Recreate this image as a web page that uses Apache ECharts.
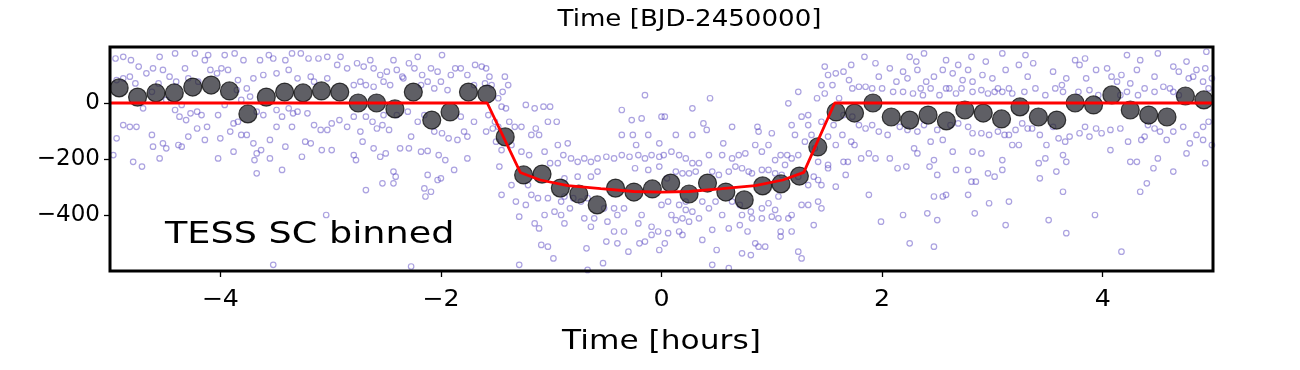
<!DOCTYPE html>
<html><head><meta charset="utf-8">
<script src="https://cdn.jsdelivr.net/npm/echarts@6/dist/echarts.min.js"></script>
<style>html,body{margin:0;padding:0;background:#fff}#c{width:1300px;height:370px}</style>
</head><body><div id="c"></div>
<script>
// Binned TESS short-cadence points (time in hours, flux in ppm)
const binTime = [-4.917,-4.750,-4.583,-4.417,-4.250,-4.083,-3.917,-3.750,-3.583,-3.417,
-3.250,-3.083,-2.917,-2.750,-2.583,-2.417,-2.250,-2.083,-1.917,-1.750,
-1.583,-1.417,-1.250,-1.083,-0.917,-0.750,-0.583,-0.417,-0.250,-0.083,
0.083,0.250,0.417,0.583,0.750,0.917,1.083,1.250,1.417,1.583,
1.750,1.917,2.083,2.250,2.417,2.583,2.750,2.917,3.083,3.250,
3.417,3.583,3.750,3.917,4.083,4.250,4.417,4.583,4.750,4.917];
const binFlux = [54,21,36,36,57,64,43,-39,21,39,
36,43,39,0,0,-21,39,-61,-32,39,
32,-121,-257,-254,-304,-325,-364,-304,-318,-307,
-286,-325,-286,-318,-346,-296,-289,-261,-157,-32,
-36,0,-50,-61,-43,-64,-25,-36,-57,-14,
-50,-61,0,-7,29,-25,-43,-50,25,11];
// Transit model
const modelTime = [-5,-1.58,-1.28,-1.1,-0.85,-0.55,-0.25,0,0.25,0.55,0.85,1.1,1.29,1.57,5];
const modelFlux = [0,0,-248,-275,-295,-306,-316,-318,-316,-306,-295,-275,-248,0,0];
// Unbinned points [time, flux]
const rawPoints = [
[-4.95,159],[-4.88,165],[-4.81,153],[-4.74,130],[-4.67,106],[-4.61,124],[-4.55,165],[-4.52,118],[-4.46,94],[-4.41,177],[-4.40,76],[-4.32,124],[-4.29,88],[-4.23,177],[-4.20,76],[-4.14,153],[-4.11,171],[-4.09,118],[-4.03,106],[-3.99,124],[-3.96,171],[-3.93,118],[-3.87,177],[-3.84,82],[-3.79,153],[-3.76,52],[-3.70,88],[-3.64,153],[-3.61,100],[-3.56,171],[-3.52,159],[-3.49,106],[-3.41,153],[-3.38,118],[-3.35,177],
[-4.94,82],[-4.88,88],[-4.82,94],[-4.77,70],[-4.70,-19],[-4.62,40],[-4.56,70],[-4.49,11],[-4.41,-25],[-4.37,-49],[-4.31,-61],[-4.27,-37],[-4.21,-31],[-4.17,-43],[-4.35,-7],[-4.02,-43],[-3.96,-7],[-3.85,46],[-3.81,11],[-3.73,23],[-3.67,-31],[-3.61,-43],[-3.49,-25],[-3.44,-49],[-3.38,-19],[-3.34,-37],
[-4.88,-79],[-4.82,-85],[-4.76,-85],[-4.94,-126],[-4.62,-114],[-4.61,-156],[-4.52,-144],[-4.49,-162],[-4.38,-150],[-4.35,-156],[-4.29,-120],[-4.21,-91],[-4.12,-85],[-4.14,-132],[-4.00,-126],[-3.91,-102],[-3.88,-73],[-3.84,-67],[-3.81,-114],[-3.76,-114],[-3.70,-144],[-3.67,-180],[-3.63,-168],[-3.55,-132],[-3.49,-85],[-3.41,-156],[-3.35,-85],
[-4.97,-186],[-4.79,-210],[-4.71,-227],[-4.55,-198],[-4.02,-198],[-3.88,-174],[-3.69,-204],[-3.55,-198],[-3.67,-251],[-3.44,-239],[-3.52,-578],
[-3.27,177],[-3.20,159],[-3.11,159],[-3.03,165],[-2.94,136],[-2.91,165],[-2.85,124],[-2.76,142],[-2.70,130],[-2.64,153],[-2.61,124],[-2.55,100],[-2.49,112],[-2.43,153],[-2.40,118],[-2.35,94],[-2.29,142],[-2.24,124],[-2.21,165],[-2.17,100],[-2.12,76],[-2.09,124],[-2.03,112],[-1.99,171],[-1.91,100],[-1.87,124],[-1.82,124],[-1.76,100],[-1.69,136],[-3.30,88],[-3.18,94],[-3.15,76],[-3.03,88],[-2.79,64],[-2.73,76],[-2.68,64],[-2.61,58],[-2.52,76],[-2.46,64],[-2.34,88],[-2.18,64],[-2.06,52],[-2.00,76],[-1.94,46],[-1.70,64],
[-3.30,-31],[-3.21,-37],[-3.15,-79],[-3.09,-96],[-3.03,-96],[-2.99,-73],[-2.92,-61],[-2.85,-85],[-2.79,-49],[-2.73,-102],[-2.68,-49],[-2.62,-67],[-2.58,-91],[-2.53,-79],[-2.52,-43],[-2.47,-96],[-2.40,-43],[-2.30,-31],[-2.27,-120],[-2.21,-67],[-2.15,-43],[-2.06,-102],[-1.99,-108],[-1.93,-126],[-1.85,-132],[-1.79,-102],[-1.76,-120],[-1.70,-67],[-1.82,-49],
[-3.23,-138],[-3.18,-144],[-3.08,-168],[-2.99,-168],[-3.26,-192],[-2.79,-186],[-2.77,-204],[-2.71,-138],[-2.61,-162],[-2.55,-192],[-2.50,-180],[-2.37,-162],[-2.29,-162],[-2.18,-174],[-2.12,-171],[-2.02,-186],[-1.96,-204],[-1.76,-198],[-2.43,-245],[-2.41,-263],[-2.12,-257],[-2.00,-269],[-1.88,-239],[-2.68,-311],[-2.53,-287],[-2.43,-287],[-2.15,-305],[-2.14,-334],[-2.09,-317],[-2.03,-275],[-3.04,-400],[-2.27,-584],
[-1.63,130],[-1.59,124],[-1.56,94],[-1.60,70],[-1.54,64],[-1.42,94],[-1.39,64],[-1.44,40],[-1.48,17],[-1.45,-13],[-1.41,-19],[-1.57,-43],[-1.51,-67],[-1.53,-91],[-1.59,-102],[-1.48,-85],[-1.38,-67],[-1.33,-85],[-1.27,-85],[-1.50,-138],[-1.36,-150],[-1.45,-168],
[-1.23,-7],[-1.15,-19],[-1.07,-13],[-1.01,-13],[-1.03,-67],[-0.95,-67],[-1.14,-91],[-1.18,-114],[-1.11,-114],[-1.27,-174],[-1.20,-186],[-1.06,-174],[-0.94,-150],[-0.85,-144],[-0.89,-186],[-0.82,-198],[-0.94,-215],[-1.01,-215],[-0.76,-210],[-0.70,-198],[-0.64,-210],[-0.58,-198],[-0.50,-192],[-0.43,-198],[-0.36,-186],[-0.29,-192],[-0.21,-186],[-0.15,-198],[-0.09,-186],[-0.02,-192],[-0.15,28],[-0.36,-25],[-0.27,-61],[-0.18,-55],[-0.36,-114],[-0.26,-114],[-0.12,-114],[-0.23,-150],[0.00,-49],[-0.02,-144],
[-1.47,-227],[-1.45,-328],[-1.36,-293],[-1.32,-352],[-1.29,-406],[-1.21,-293],[-1.18,-328],[-1.12,-340],[-1.03,-340],[-1.23,-364],[-1.15,-430],[-1.11,-448],[-1.06,-400],[-0.97,-388],[-0.91,-400],[-0.88,-430],[-0.83,-376],[-0.80,-340],[-0.73,-352],[-0.67,-340],[-0.70,-412],[-0.64,-442],[-0.61,-412],[-0.52,-376],[-0.43,-376],[-0.40,-400],[-0.34,-376],[-0.49,-424],[-0.43,-459],[-0.34,-459],[-0.21,-430],[-0.18,-400],[-0.09,-442],[-0.09,-471],[-0.15,-495],[-0.03,-459],[-1.09,-507],[-1.03,-513],[-0.98,-555],[-0.68,-519],[-0.50,-495],[-0.40,-501],[-0.30,-531],[-0.20,-501],[-0.02,-525],[-1.29,-578],[-0.53,-572],[-0.67,-596],[-0.88,-269],[-0.76,-263],[-0.64,-263],[-0.58,-245],[-0.24,-233],[-0.12,-239],[-0.02,-227],[-0.88,-334],[-0.91,-352],
[0.03,-49],[0.28,-19],[0.44,17],[0.38,-73],[0.41,-96],[0.13,-114],[0.28,-114],[0.64,-85],[0.87,-85],[0.88,-102],[1.00,-108],[1.15,-1],[1.24,40],[1.41,17],[1.48,130],[1.51,100],[1.58,106],[1.55,64],[1.45,64],[1.48,34],[1.61,17],[1.65,112],[1.33,-43],[1.27,-49],[1.33,-79],[1.18,-79],[1.21,-114],[1.36,-114],[1.45,-67],[1.56,-79],[1.65,-43],[1.51,-120],[1.64,-114],
[0.02,-186],[0.09,-174],[0.16,-186],[0.22,-198],[0.28,-215],[0.34,-215],[0.43,-186],[0.56,-144],[0.55,-186],[0.64,-198],[0.70,-186],[0.76,-180],[0.85,-150],[0.91,-174],[0.97,-150],[1.03,-204],[1.08,-186],[1.14,-186],[1.18,-198],[1.24,-186],[1.30,-138],[1.39,-162],[1.42,-210],[1.51,-221],[1.65,-210],[1.58,-150],
[0.05,-269],[0.13,-245],[0.19,-251],[0.25,-251],[0.31,-245],[0.46,-245],[0.52,-257],[0.61,-245],[0.67,-227],[0.73,-233],[0.79,-245],[0.82,-251],[0.91,-239],[0.97,-239],[1.03,-251],[1.09,-257],[1.12,-221],[1.24,-263],[1.33,-293],[1.38,-263],[1.42,-275],[1.45,-293],[1.58,-299],[1.67,-257],[1.51,-233],
[0.00,-364],[0.06,-352],[0.16,-364],[0.22,-352],[0.22,-382],[0.28,-388],[0.37,-352],[0.43,-376],[0.49,-352],[0.64,-352],[0.71,-364],[0.73,-400],[0.81,-388],[0.82,-412],[0.91,-376],[0.97,-358],[1.03,-382],[1.06,-334],[1.06,-412],[1.15,-412],[1.18,-400],[1.27,-364],[1.33,-364],[1.42,-352],[1.45,-376],[1.38,-436],[0.13,-418],[0.19,-412],[0.25,-424],[0.34,-412],[0.46,-453],[0.55,-400],[0.61,-448],[0.71,-436],[0.78,-459],[0.91,-412],[1.00,-406],[1.08,-459],[1.08,-477],[0.85,-501],[0.88,-513],[0.94,-513],[1.18,-459],[1.24,-531],[1.27,-555],[0.06,-465],[0.16,-459],[0.19,-471],[0.03,-501],[0.37,-489],[0.50,-525],[0.09,-400],[0.46,-578],[0.61,-590],[0.73,-537],[0.81,-543],
[1.72,136],[1.84,165],[1.94,142],[1.97,94],[2.07,124],[2.13,76],[2.19,112],[2.23,88],[2.25,165],[2.31,148],[2.32,118],[2.38,177],[2.40,76],[2.47,94],[2.55,118],[2.58,153],[2.58,52],[2.64,106],[2.69,136],[2.73,82],[2.78,118],[2.81,165],[2.82,76],[2.91,100],[2.94,148],[3.00,88],[3.05,52],[3.09,177],[3.12,118],[3.15,52],[3.24,136],[3.30,171],[3.32,94],[1.70,82],[1.73,52],[1.79,58],[1.85,58],[1.91,52],[2.00,52],[2.10,40],[2.19,40],[2.28,34],[2.35,52],[2.37,28],[2.44,52],[2.52,28],[2.61,52],[2.67,34],[2.72,52],[2.82,40],[2.90,46],[2.96,34],[3.02,40],[3.09,40],[3.18,34],[3.29,40],
[1.73,-49],[1.79,-79],[1.85,-91],[1.91,-79],[1.97,-102],[2.05,-114],[2.16,-85],[2.23,-96],[2.32,-102],[2.38,-79],[2.44,-138],[2.50,-96],[2.55,-132],[2.62,-79],[2.69,-73],[2.78,-85],[2.82,-108],[2.90,-108],[2.97,-114],[3.05,-102],[3.11,-114],[3.15,-114],[3.21,-96],[3.27,-73],[3.32,-91],[1.72,-138],[1.75,-150],[1.81,-198],[1.88,-180],[1.94,-198],[2.07,-198],[2.14,-233],[2.22,-227],[2.29,-162],[2.32,-180],[2.43,-227],[2.47,-204],[2.50,-257],[2.64,-174],[2.67,-239],[2.78,-239],[2.82,-174],[2.90,-180],[2.81,-281],[2.85,-281],[2.96,-251],[3.02,-263],[3.09,-204],[3.18,-150],[3.24,-150],[3.09,-239],[1.69,-210],
[1.88,-328],[1.99,-424],[2.19,-400],[2.41,-394],[2.50,-418],[2.47,-334],[2.55,-334],[2.58,-328],[2.78,-328],[2.84,-394],[2.97,-358],[3.15,-352],[3.12,-436],[2.25,-501],[2.47,-513],
[3.37,142],[3.55,112],[3.63,64],[3.67,88],[3.75,153],[3.79,136],[3.84,159],[3.85,88],[3.94,118],[4.04,124],[4.08,94],[4.13,76],[4.17,100],[4.22,171],[4.25,70],[4.31,118],[4.34,153],[4.38,52],[4.47,94],[4.50,177],[4.55,58],[4.61,52],[4.64,130],[4.69,112],[4.76,148],[4.78,88],[4.82,94],[4.85,118],[4.91,76],[4.94,183],[4.99,88],[3.39,52],[3.48,28],[3.57,52],[3.64,40],[3.78,40],[3.88,46],[3.96,28],[4.16,28],[4.22,40],[4.32,28],[4.47,40],[4.64,40],[4.69,28],[4.96,52],[4.93,124],
[3.36,-91],[3.43,-114],[3.49,-150],[3.55,-85],[3.60,-126],[3.66,-138],[3.70,-120],[3.79,-108],[3.84,-85],[3.88,-120],[3.94,-91],[3.99,-108],[4.07,-96],[4.07,-168],[4.16,-91],[4.23,-138],[4.25,-210],[4.31,-210],[4.35,-132],[4.38,-120],[4.41,-79],[4.47,-91],[4.52,-102],[4.58,-132],[4.64,-102],[4.73,-85],[4.79,-144],[4.85,-114],[4.91,-85],[4.96,-67],[4.91,-132],[4.99,-150],[3.42,-215],[3.48,-198],[3.64,-186],[3.67,-210],[3.58,-245],[3.43,-269],[4.46,-233],[4.40,-287],[4.34,-317],[4.50,-198],[4.64,-245],[4.76,-180],[4.93,-215],
[3.64,-317],[3.51,-418],[3.67,-465],[3.93,-400],[4.17,-531]
];
const xTicks = [-4,-2,0,2,4];
const yTicks = [-400,-200,0];
const topTitle = 'Time [BJD-2450000]';
const xTitle = 'Time [hours]';
const panelLabel = 'TESS SC binned';

const FAM = '"DejaVu Sans", sans-serif';
const minusFmt = v => (v < 0 ? '\u2212' + Math.abs(v) : String(v));
const chart = echarts.init(document.getElementById('c'), null, {renderer: 'canvas'});
chart.setOption({
  animation: false,
  backgroundColor: '#fff',
  grid: {left: 110, right: 87, top: 47, bottom: 99, show: true, borderColor: '#000', borderWidth: 3, backgroundColor: 'transparent', z: 10},
  xAxis: {
    type: 'value', min: -5, max: 5,
    axisLine: {show: false, onZero: false},
    splitLine: {show: false},
    axisTick: {show: true, inside: false, length: 6, customValues: xTicks, lineStyle: {color: '#000', width: 1.3}},
    axisLabel: {show: false}
  },
  yAxis: {
    type: 'value', min: -600, max: 200,
    axisLine: {show: false, onZero: false},
    splitLine: {show: false},
    axisTick: {show: true, inside: false, length: 6, customValues: yTicks, lineStyle: {color: '#000', width: 1.3}},
    axisLabel: {show: false}
  },
  series: [
    {type: 'scatter', data: rawPoints, symbol: 'circle', symbolSize: 5.5, clip: true, z: 1,
     itemStyle: {color: 'rgba(255,255,255,0)', borderColor: 'rgba(80,60,190,0.6)', borderWidth: 1.2}},
    {type: 'scatter', data: binTime.map((t, i) => [t, binFlux[i]]), symbol: 'circle', symbolSize: 18, clip: true, z: 3,
     itemStyle: {color: 'rgba(40,40,48,0.93)', borderColor: 'rgba(0,0,0,0.9)', borderWidth: 1.2}},
    {type: 'line', data: modelTime.map((t, i) => [t, modelFlux[i]]), showSymbol: false, symbol: 'none', smooth: false, clip: true, z: 4,
     lineStyle: {color: '#ff0000', width: 2.8}}
  ]
});

// Text (tick labels, titles) placed through the axes' own scales
const px = v => chart.convertToPixel({xAxisIndex: 0}, v);
const py = v => chart.convertToPixel({yAxisIndex: 0}, v);
const xLeft = px(-5), xRight = px(5), yBottom = py(-600), yTop = py(200);
const xMid = (xLeft + xRight) / 2;
const txt = (x, y, s, size, align, sx, z) => ({
  type: 'text', x: x, y: y, scaleX: sx, z: z || 50,
  style: {text: s, x: 0, y: 0, fill: '#000', font: size + 'px ' + FAM, align: align, verticalAlign: 'middle'}
});
const g = [];
xTicks.forEach(t => g.push(txt(px(t), yBottom + 29, minusFmt(t), 23, 'center', 1.1)));
yTicks.forEach(v => g.push(txt(xLeft - 10, py(v), minusFmt(v), 23, 'right', 1.0)));
g.push(txt(xMid, yBottom + 71, xTitle, 26.5, 'center', 1.18));
g.push(txt(xMid + 28, yTop - 27, topTitle, 22.5, 'center', 1.16));
g.push(txt(xLeft + 55, py(-470), panelLabel, 31, 'left', 1.18, 100));
chart.setOption({graphic: g});
</script>
</body></html>
